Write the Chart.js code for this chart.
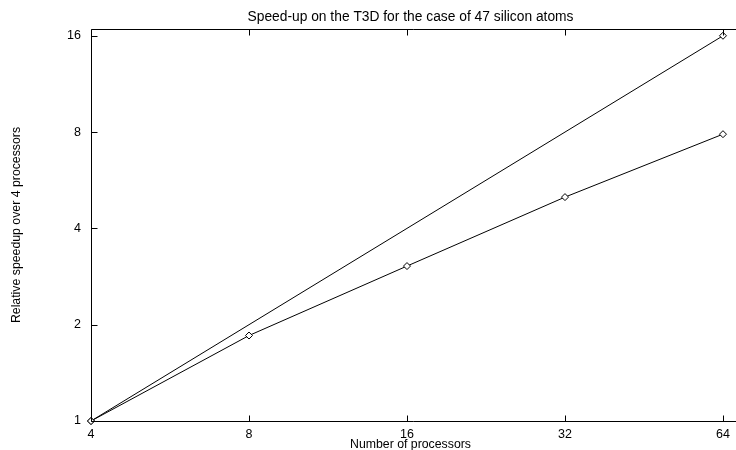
<!DOCTYPE html>
<html>
<head>
<meta charset="utf-8">
<script src="https://cdn.jsdelivr.net/npm/chart.js@4/dist/chart.umd.min.js"></script>
<style>
  html, body { margin: 0; padding: 0; background: #fff; }
  #wrap { width: 736px; height: 450px; }
</style>
</head>
<body>
<div id="wrap"><canvas id="c" width="736" height="450"></canvas></div>
<script>
// ---- data ----
const processors = [4, 8, 16, 32, 64];
const measuredSpeedup = [1, 1.85, 3.05, 5.01, 7.88];
const idealProcessors = [4, 64];
const idealSpeedup = [1, 16];
const xTickValues = [4, 8, 16, 32, 64];
const yTickValues = [1, 2, 4, 8, 16];
const chartTitle = 'Speed-up on the T3D for the case of 47 silicon atoms';
const xTitle = 'Number of processors';
const yTitle = 'Relative speedup over 4 processors';

Chart.defaults.font.family = '"Liberation Sans", Arial, Helvetica, sans-serif';
Chart.defaults.font.size = 12;
Chart.defaults.color = '#000';

const framePlugin = {
  id: 'frame',
  afterDatasetsDraw(chart) {
    const ctx = chart.ctx;
    const { left, top, bottom } = chart.chartArea;
    const right = chart.width;
    const xs = chart.scales.x, ys = chart.scales.y;
    const tl = 6;
    ctx.save();
    ctx.strokeStyle = '#000';
    ctx.lineWidth = 1;
    ctx.beginPath();
    const L = Math.round(left) + 0.5, T = Math.round(top) + 0.5, B = Math.round(bottom) + 0.5;
    ctx.moveTo(right, T); ctx.lineTo(L, T); ctx.lineTo(L, B); ctx.lineTo(right, B);
    xTickValues.forEach(v => {
      const px = Math.round(xs.getPixelForValue(v)) + 0.5;
      ctx.moveTo(px, B); ctx.lineTo(px, B - tl);
      ctx.moveTo(px, T); ctx.lineTo(px, T + tl);
    });
    yTickValues.forEach(v => {
      const py = Math.round(ys.getPixelForValue(v)) + 0.5;
      ctx.moveTo(L, py); ctx.lineTo(L + tl, py);
    });
    ctx.stroke();
    ctx.restore();
  }
};

const lineStyle = {
  borderColor: '#000',
  borderWidth: 1,
  pointStyle: 'rectRot',
  pointRadius: 3.5,
  pointBackgroundColor: '#fff',
  pointBorderColor: '#000',
  pointBorderWidth: 1,
  tension: 0,
  fill: false,
  clip: false
};

new Chart(document.getElementById('c'), {
  type: 'line',
  data: {
    datasets: [
      Object.assign({ label: 'Ideal', data: idealProcessors.map((p, i) => ({ x: p, y: idealSpeedup[i] })) }, lineStyle),
      Object.assign({ label: 'T3D', data: processors.map((p, i) => ({ x: p, y: measuredSpeedup[i] })) }, lineStyle)
    ]
  },
  options: {
    responsive: false,
    animation: false,
    devicePixelRatio: 1,
    layout: { padding: 0 },
    plugins: {
      legend: { display: false },
      tooltip: { enabled: false },
      title: {
        display: true,
        text: chartTitle,
        fullSize: false,
        color: '#000',
        font: { size: 13.8, weight: 'normal', lineHeight: 1.2 },
        padding: { top: 9, bottom: 3.44 }
      }
    },
    scales: {
      x: {
        type: 'logarithmic',
        min: 4,
        max: 66.0,
        afterBuildTicks: s => { s.ticks = xTickValues.map(v => ({ value: v })); },
        afterFit: s => { s.height = 29; },
        ticks: { autoSkip: false, maxRotation: 0, minRotation: 0, padding: 6, color: '#000',
                 font: { size: 12.5 }, callback: v => String(v) },
        grid: { display: false, drawTicks: false },
        border: { display: false },
        title: { display: true, text: xTitle, color: '#000',
                 font: { size: 12.3, lineHeight: 0.9 }, padding: { top: 0, bottom: 0 } }
      },
      y: {
        type: 'logarithmic',
        min: 1,
        max: 16.8,
        afterBuildTicks: s => { s.ticks = yTickValues.map(v => ({ value: v })); },
        afterFit: s => { s.width = 91; },
        ticks: { autoSkip: false, padding: 10, color: '#000', font: { size: 12.5 },
                 callback: v => String(v) },
        grid: { display: false, drawTicks: false },
        border: { display: false },
        title: { display: true, text: yTitle, color: '#000',
                 font: { size: 12.3, lineHeight: 1.2 }, padding: { top: 9, bottom: 0 } }
      }
    }
  },
  plugins: [framePlugin]
});
</script>
</body>
</html>
